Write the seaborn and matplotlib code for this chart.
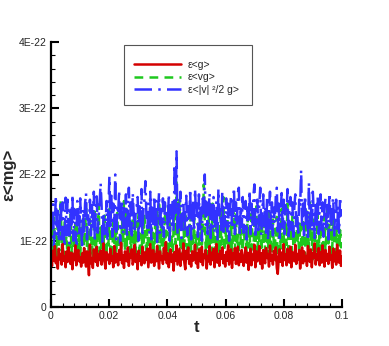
import numpy as np
import matplotlib
matplotlib.use("Agg")
import matplotlib.pyplot as plt
import seaborn as sns
from matplotlib.patches import Rectangle
from matplotlib.lines import Line2D
from matplotlib.ticker import FixedLocator, FixedFormatter, MultipleLocator

# values in units of 1E-22
eps_g = [
0.78,0.62,0.85,0.70,0.92,0.66,0.74,0.58,0.88,0.72,0.80,0.64,0.95,0.70,0.76,0.60,0.84,0.68,0.90,0.73,
0.65,0.82,0.57,0.79,0.71,0.93,0.63,0.77,0.86,0.69,0.75,0.61,0.81,0.67,0.89,0.72,0.61,0.84,0.70,0.48,
0.94,0.66,0.73,0.59,0.87,0.74,0.68,0.91,0.62,0.80,0.71,0.85,0.64,0.77,0.96,0.69,0.58,0.83,0.72,0.79,
0.65,0.88,0.70,0.76,0.60,0.92,0.67,0.81,0.74,0.63,0.86,0.71,0.97,0.66,0.78,0.59,0.84,0.73,0.69,0.90,
0.62,0.80,0.75,0.87,0.64,0.72,0.94,0.68,0.79,0.57,0.85,0.70,0.76,0.63,0.91,0.74,0.66,0.83,0.71,0.88,
0.60,0.78,0.95,0.67,0.73,0.86,0.62,0.80,0.69,0.92,0.75,0.58,0.84,0.71,0.77,0.65,0.89,0.72,0.98,0.66,
0.81,0.60,0.74,0.87,0.68,0.79,0.55,0.83,0.70,0.93,0.64,0.76,0.88,0.62,0.80,0.72,0.96,0.67,0.57,0.85,
0.73,0.90,0.65,0.78,0.61,0.84,0.70,0.76,0.94,0.66,0.81,0.59,0.87,0.72,0.68,0.91,0.63,0.79,0.74,0.86,
0.58,0.77,0.69,0.92,0.64,0.82,0.71,0.88,0.60,0.75,0.95,0.67,0.80,0.62,0.85,0.73,0.90,0.66,0.78,0.61,
0.83,0.70,0.93,0.64,0.76,0.87,0.59,0.81,0.72,0.89,0.65,0.77,0.91,0.63,0.80,0.68,0.86,0.71,0.62,0.78,
0.90,0.67,0.82,0.56,0.75,0.88,0.63,0.79,0.71,0.94,0.60,0.84,0.69,0.77,0.92,0.65,0.81,0.58,0.86,0.73,
0.66,0.89,0.74,0.80,0.61,0.93,0.70,0.78,0.64,0.85,0.72,0.90,0.59,0.50,0.76,0.87,0.68,0.82,0.62,0.95,
0.71,0.79,0.63,0.88,0.74,0.67,0.91,0.60,0.83,0.76,0.69,0.94,0.65,0.80,0.72,0.86,0.58,0.78,0.90,0.66,
0.84,0.70,0.77,0.62,0.92,0.73,0.68,0.87,0.60,0.81,0.75,0.96,0.64,0.79,0.71,0.89,0.63,0.83,0.67,0.93,
0.74,0.61,0.86,0.70,0.80,0.65,0.91,0.72,0.78,0.59,0.88,0.69,0.82,0.64,0.94,0.73,0.67,0.85,0.62,0.76]

eps_vg = [
0.95,1.20,0.80,1.35,0.88,1.10,0.72,1.45,0.92,1.05,1.62,0.85,1.18,0.78,1.30,0.96,1.08,0.70,1.25,0.90,
1.40,0.82,1.02,1.15,0.75,1.28,0.94,1.50,0.86,1.12,0.68,1.22,0.98,1.36,0.80,1.06,1.58,0.88,1.16,0.76,
1.32,0.92,1.04,0.70,1.26,1.44,0.84,1.10,0.97,1.55,0.82,1.20,0.74,1.14,0.90,1.38,1.00,0.78,1.24,0.93,
1.48,0.86,1.08,0.72,1.30,0.95,1.18,0.80,1.42,1.02,0.88,1.12,0.76,1.34,0.96,1.60,0.84,1.52,0.91,1.30,
1.22,0.82,1.06,0.73,1.36,0.94,1.15,0.80,1.28,0.99,1.46,0.86,1.10,0.70,1.24,0.92,1.40,1.04,0.78,1.18,
0.88,1.32,0.96,1.20,0.82,1.12,0.74,1.26,1.00,1.44,0.84,1.55,0.72,1.30,0.93,1.20,0.80,1.54,0.90,1.14,
1.02,0.76,1.36,0.88,1.10,0.70,1.24,1.50,0.95,1.90,1.16,0.98,1.62,0.86,1.06,0.74,1.28,0.92,1.38,1.04,
0.78,1.20,0.90,1.50,0.84,1.12,0.96,1.34,0.72,1.08,0.88,1.26,1.00,0.80,1.44,0.94,1.16,1.85,1.30,0.86,
1.10,0.76,1.40,0.92,1.22,0.82,1.56,0.98,1.06,0.70,1.32,0.88,1.18,0.80,1.48,0.94,1.12,1.66,0.84,1.26,
0.96,1.36,0.78,1.14,0.90,1.28,0.74,1.20,1.60,0.86,1.42,0.92,1.08,0.80,1.30,0.96,1.16,0.84,1.24,0.98,
1.12,0.82,1.38,0.90,1.20,0.74,1.46,1.02,0.86,1.28,0.94,1.52,0.78,1.16,1.00,1.34,0.72,1.22,0.92,1.40,
0.84,1.08,1.26,0.76,1.44,0.96,1.14,0.80,1.32,0.90,1.18,0.70,1.36,0.55,1.06,1.24,0.88,1.48,0.98,1.12,
0.78,1.30,0.94,1.56,0.86,1.20,1.02,0.74,1.38,0.92,1.16,0.82,1.42,0.96,1.10,0.80,1.28,1.00,0.88,1.34,
1.04,0.76,1.46,0.90,1.22,0.84,1.58,0.98,1.14,0.72,1.32,0.94,1.08,0.80,1.40,0.88,1.18,1.02,0.78,1.26,
0.92,1.36,0.84,1.12,1.55,0.96,1.24,0.74,1.30,0.88,1.44,1.00,0.82,1.20,0.94,1.34,0.78,1.16,0.90,1.10]

eps_v2g = [
1.42,1.05,1.55,0.92,1.25,1.68,1.10,1.50,0.98,1.20,1.60,1.02,1.58,1.15,0.90,1.65,1.08,1.62,1.22,0.96,
1.52,1.12,1.70,1.00,1.48,1.18,0.94,1.60,1.40,1.06,1.64,1.20,0.88,1.48,1.14,1.56,1.72,1.02,1.42,1.24,
1.62,1.08,1.54,1.16,1.74,0.98,1.46,1.67,1.12,1.38,1.58,1.87,1.52,0.92,1.42,1.10,1.14,1.60,1.00,1.48,
1.97,1.22,1.68,1.06,1.56,1.18,2.00,1.02,1.50,1.40,1.76,0.96,1.44,1.62,1.10,1.54,1.20,1.70,1.04,1.46,
1.80,1.16,1.58,1.08,1.72,1.38,1.12,1.42,1.52,1.66,1.00,1.52,1.22,1.78,1.06,1.48,1.62,1.90,1.40,1.14,
1.56,1.10,1.74,1.02,1.50,1.24,1.68,1.18,1.60,0.98,1.46,1.72,1.12,1.52,1.20,1.64,1.06,1.58,1.40,1.48,
1.16,1.70,1.00,1.54,1.24,1.62,1.14,2.15,1.42,2.35,1.10,1.56,1.20,1.74,1.04,1.48,1.60,1.12,1.42,1.68,
1.08,1.52,1.22,1.78,1.02,1.46,1.62,1.14,1.78,1.38,1.56,1.06,1.70,1.18,1.50,1.00,1.64,1.40,2.00,1.24,
1.58,1.10,1.48,1.72,1.04,1.54,1.20,1.66,1.12,1.44,1.60,1.02,1.78,1.38,1.52,1.16,1.74,1.08,1.50,1.22,
1.64,1.14,1.56,1.00,1.48,1.68,1.18,1.42,1.80,1.10,1.58,1.24,1.72,1.80,1.06,1.52,1.20,1.66,1.12,1.46,
1.60,1.02,1.50,1.26,1.76,1.10,1.56,1.20,1.68,1.85,1.04,1.48,1.62,1.16,1.54,1.80,1.08,1.42,1.70,1.22,
1.52,1.12,1.64,1.00,1.46,1.74,1.18,1.58,1.08,1.50,1.26,1.68,1.80,1.14,1.56,1.04,1.44,1.72,1.20,1.62,
1.10,1.54,1.40,1.78,1.02,1.48,1.66,1.16,1.58,1.06,1.50,1.70,1.22,1.42,1.12,1.62,1.52,2.07,1.18,1.56,
1.08,1.68,1.26,1.48,1.00,1.88,1.20,1.60,1.14,1.74,1.42,1.04,1.54,1.24,1.66,1.10,1.50,1.70,1.16,1.58,
1.06,1.46,1.64,1.20,1.54,1.02,1.72,1.40,1.14,1.56,1.65,1.08,1.48,1.62,1.18,1.52,1.12,1.66,1.38,1.44]

t = np.linspace(0.0, 0.1, len(eps_g))

labels = ["ε<g>", "ε<vg>", "ε<|v| ²/2 g>"]
x_ticks = [0, 0.02, 0.04, 0.06, 0.08, 0.1]
x_tick_labels = ["0", "0.02", "0.04", "0.06", "0.08", "0.1"]
y_ticks = [0, 1e-22, 2e-22, 3e-22, 4e-22]
y_tick_labels = ["0", "1E-22", "2E-22", "3E-22", "4E-22"]

sns.set_style("ticks")
plt.rcParams['font.family'] = ['Liberation Sans', 'DejaVu Sans']

RED = "#d40000"
GREEN = "#1ec81e"
BLUE = "#3232ff"
LW = 1.8

fig = plt.figure(figsize=(3.89, 3.46), dpi=100)
ax = fig.add_axes([51/389, 1-307/346, 291/389, 265/346])

scale = 1e-22
blue_ls = (0, (7, 2.5, 1, 2.5))
green_ls = (0, (3.5, 2.5))
sns.lineplot(x=t, y=np.array(eps_vg)*scale, color=GREEN, linewidth=LW, linestyle=green_ls, ax=ax)
sns.lineplot(x=t, y=np.array(eps_v2g)*scale, color=BLUE, linewidth=LW, linestyle=blue_ls, ax=ax)
sns.lineplot(x=t, y=np.array(eps_g)*scale, color=RED, linewidth=LW, ax=ax)

ax.set_xlim(0, 0.1)
ax.set_ylim(0, 4e-22)
ax.xaxis.set_major_locator(FixedLocator(x_ticks))
ax.xaxis.set_major_formatter(FixedFormatter(x_tick_labels))
ax.xaxis.set_minor_locator(MultipleLocator(0.004))
ax.yaxis.set_major_locator(FixedLocator(y_ticks))
ax.yaxis.set_major_formatter(FixedFormatter(y_tick_labels))
ax.yaxis.set_minor_locator(MultipleLocator(0.2e-22))
ax.tick_params(which='major', direction='in', length=6, width=1.5, labelsize=7.5, pad=3, color='black')
ax.tick_params(which='minor', direction='in', length=3, width=0.8, color='black')
ax.spines['top'].set_visible(False)
ax.spines['right'].set_visible(False)
for s in ['left', 'bottom']:
    ax.spines[s].set_linewidth(1.6)
    ax.spines[s].set_color('black')

ax.set_xlabel("t", fontsize=12, fontweight='bold')
ax.xaxis.set_label_coords(0.499, -0.05)
ax.xaxis.label.set_va('top')
ax.set_ylabel("ε<mg>", fontsize=12, fontweight='bold')
ax.yaxis.set_label_coords(-0.118, 0.5)

# legend box
rect = Rectangle((124/389, 1-105/346), 128/389, 60/346, transform=fig.transFigure,
                 facecolor='white', edgecolor='#555555', linewidth=0.8, zorder=5)
fig.patches.append(rect)
handles = [Line2D([], [], color=RED, lw=LW),
           Line2D([], [], color=GREEN, lw=LW, linestyle=green_ls),
           Line2D([], [], color=BLUE, lw=LW, linestyle=blue_ls)]
leg = fig.legend(handles, labels, loc='upper left', bbox_to_anchor=(134/389, 1-60/346),
                 frameon=False, fontsize=7.5, handlelength=4.5, handletextpad=0.67,
                 labelspacing=0.22, borderpad=0, borderaxespad=0)
leg.set_zorder(6)

fig.savefig("out.png", dpi=100)
